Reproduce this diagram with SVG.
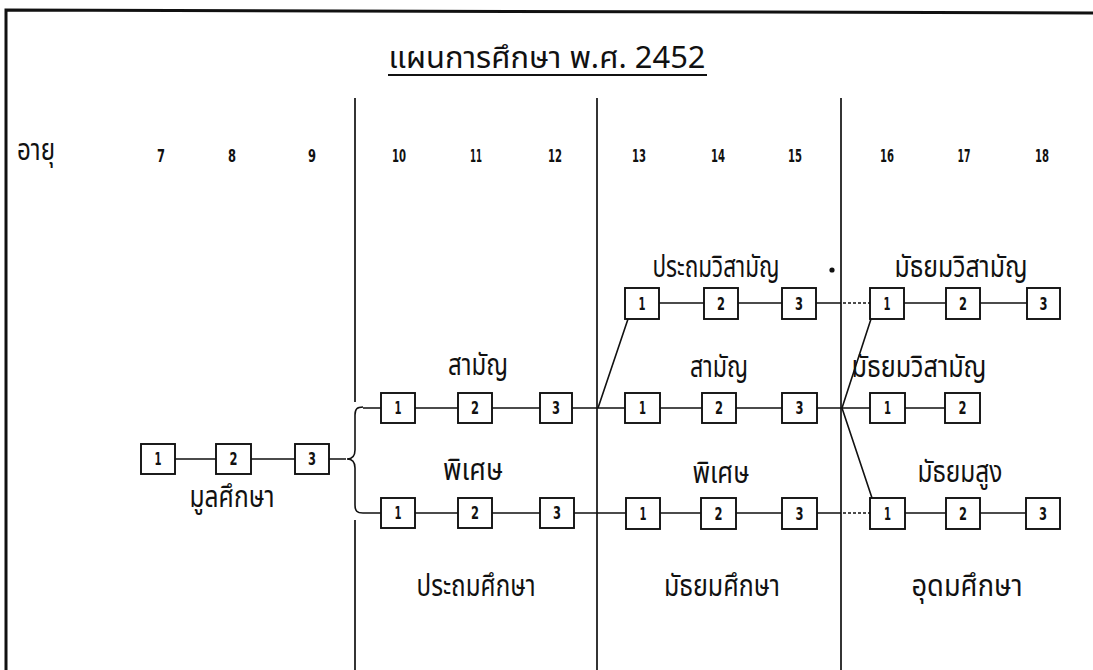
<svg xmlns="http://www.w3.org/2000/svg" width="1093" height="670" viewBox="0 0 1093 670">
<style>
.frame{stroke:#111;stroke-width:3;fill:none}
.div{stroke:#111;stroke-width:1.7;fill:none}
.ln{stroke:#111;stroke-width:1.6;fill:none}
.dot{stroke:#111;stroke-width:1.6;fill:none;stroke-dasharray:3 2}
.box{fill:#fff;stroke:#111;stroke-width:1.9}
.num{font-family:"Liberation Sans Narrow","DejaVu Sans Condensed","Liberation Sans",sans-serif;font-weight:bold;font-size:17px;fill:#111;text-anchor:middle}
.age{font-family:"Liberation Sans Narrow","DejaVu Sans Condensed","Liberation Sans",sans-serif;font-weight:bold;font-size:18px;fill:#111;text-anchor:middle}
.th{font-family:"Noto Sans Thai","Loma","Garuda","Tlwg Typo","Noto Sans","DejaVu Sans",sans-serif;font-size:30px;fill:#111;text-anchor:middle}
</style>
<rect width="1093" height="670" fill="#fff"/>
<g id="frame">
<path class="frame" d="M6,670 L6,10 L1093,13"/>
<line class="div" x1="355" y1="98" x2="355" y2="402"/>
<line class="div" x1="355" y1="520" x2="355" y2="670"/>
<line class="div" x1="597" y1="98" x2="597" y2="670"/>
<line class="div" x1="841" y1="98" x2="841" y2="670"/>
</g>
<g id="title">
<text class="th" x="547" y="68" font-size="36" textLength="317" lengthAdjust="spacingAndGlyphs">แผนการศึกษา พ.ศ. 2452</text>
<line x1="388" y1="75" x2="707" y2="75" stroke="#111" stroke-width="2"/>
</g>
<g id="ages">
<text class="th" x="36" y="160" font-size="27" textLength="38" lengthAdjust="spacingAndGlyphs">อายุ</text>
<text class="age" x="161" y="162" textLength="8" lengthAdjust="spacingAndGlyphs">7</text>
<text class="age" x="232" y="162" textLength="8" lengthAdjust="spacingAndGlyphs">8</text>
<text class="age" x="312" y="162" textLength="8" lengthAdjust="spacingAndGlyphs">9</text>
<text class="age" x="399" y="162" textLength="14" lengthAdjust="spacingAndGlyphs">10</text>
<text class="age" x="476" y="162" textLength="12" lengthAdjust="spacingAndGlyphs">11</text>
<text class="age" x="555" y="162" textLength="14" lengthAdjust="spacingAndGlyphs">12</text>
<text class="age" x="639" y="162" textLength="14" lengthAdjust="spacingAndGlyphs">13</text>
<text class="age" x="718" y="162" textLength="14" lengthAdjust="spacingAndGlyphs">14</text>
<text class="age" x="795" y="162" textLength="14" lengthAdjust="spacingAndGlyphs">15</text>
<text class="age" x="887" y="162" textLength="14" lengthAdjust="spacingAndGlyphs">16</text>
<text class="age" x="964" y="162" textLength="13" lengthAdjust="spacingAndGlyphs">17</text>
<text class="age" x="1042" y="162" textLength="14" lengthAdjust="spacingAndGlyphs">18</text>
</g>
<g id="connectors">
<path class="ln" d="M175,459 H216 M251,459 H295 M329,459 H346"/>
<path class="ln" d="M363,407 C357,407 355,409 355,415 L355,450 C355,456 352,459 347,459 C352,459 355,462 355,468 L355,505 C355,511 357,513 363,513"/>
<path class="ln" d="M659,303 H704 M738,303 H782 M816,303 H841"/>
<path class="dot" d="M843,303 H870"/>
<path class="ln" d="M904,303 H946 M980,303 H1027"/>
<path class="ln" d="M363,408 H381 M415,408 H458 M492,408 H540 M572,408 H625 M660,408 H702 M736,408 H782 M817,408 H870 M905,408 H945"/>
<path class="ln" d="M363,513 H381 M415,513 H458 M492,513 H540 M574,513 H626 M660,513 H701 M736,513 H782 M817,513 H841"/>
<path class="dot" d="M843,513 H870"/>
<path class="ln" d="M905,513 H946 M980,513 H1026"/>
<path class="ln" d="M598,408 L628,319 M842,408 L871,319 M842,408 L872,498"/>
<circle cx="832" cy="270" r="2.6" fill="#111"/>
</g>
<g id="mula">
<rect class="box" x="141" y="444" width="34" height="30"/><text class="num" x="158" y="465" textLength="7" lengthAdjust="spacingAndGlyphs">1</text>
<rect class="box" x="216" y="444" width="35" height="30"/><text class="num" x="233.5" y="465" textLength="8" lengthAdjust="spacingAndGlyphs">2</text>
<rect class="box" x="295" y="444" width="34" height="30"/><text class="num" x="312" y="465" textLength="8" lengthAdjust="spacingAndGlyphs">3</text>
<text class="th" x="232" y="507" textLength="85" lengthAdjust="spacingAndGlyphs">มูลศึกษา</text>
</g>
<g id="prathom-saman">
<text class="th" x="478" y="375" textLength="60" lengthAdjust="spacingAndGlyphs">สามัญ</text>
<rect class="box" x="381" y="393" width="34" height="30"/><text class="num" x="398" y="414" textLength="7" lengthAdjust="spacingAndGlyphs">1</text>
<rect class="box" x="458" y="393" width="34" height="30"/><text class="num" x="475" y="414" textLength="8" lengthAdjust="spacingAndGlyphs">2</text>
<rect class="box" x="540" y="393" width="32" height="30"/><text class="num" x="556" y="414" textLength="8" lengthAdjust="spacingAndGlyphs">3</text>
</g>
<g id="prathom-phiset">
<text class="th" x="473" y="480" textLength="60" lengthAdjust="spacingAndGlyphs">พิเศษ</text>
<rect class="box" x="381" y="498" width="34" height="30"/><text class="num" x="398" y="519" textLength="7" lengthAdjust="spacingAndGlyphs">1</text>
<rect class="box" x="458" y="498" width="34" height="30"/><text class="num" x="475" y="519" textLength="8" lengthAdjust="spacingAndGlyphs">2</text>
<rect class="box" x="540" y="498" width="34" height="30"/><text class="num" x="557" y="519" textLength="8" lengthAdjust="spacingAndGlyphs">3</text>
</g>
<g id="prathom-wisaman">
<text class="th" x="716" y="277" textLength="127" lengthAdjust="spacingAndGlyphs">ประถมวิสามัญ</text>
<rect class="box" x="625" y="288" width="34" height="31"/><text class="num" x="642" y="310" textLength="7" lengthAdjust="spacingAndGlyphs">1</text>
<rect class="box" x="704" y="288" width="34" height="31"/><text class="num" x="721" y="310" textLength="8" lengthAdjust="spacingAndGlyphs">2</text>
<rect class="box" x="782" y="288" width="34" height="31"/><text class="num" x="799" y="310" textLength="8" lengthAdjust="spacingAndGlyphs">3</text>
</g>
<g id="mathayom-saman">
<text class="th" x="719" y="377" textLength="58" lengthAdjust="spacingAndGlyphs">สามัญ</text>
<rect class="box" x="625" y="393" width="35" height="30"/><text class="num" x="642.5" y="414" textLength="7" lengthAdjust="spacingAndGlyphs">1</text>
<rect class="box" x="702" y="393" width="34" height="30"/><text class="num" x="719" y="414" textLength="8" lengthAdjust="spacingAndGlyphs">2</text>
<rect class="box" x="782" y="393" width="35" height="30"/><text class="num" x="799.5" y="414" textLength="8" lengthAdjust="spacingAndGlyphs">3</text>
</g>
<g id="mathayom-phiset">
<text class="th" x="721" y="483" textLength="57" lengthAdjust="spacingAndGlyphs">พิเศษ</text>
<rect class="box" x="626" y="498" width="34" height="31"/><text class="num" x="643" y="520" textLength="7" lengthAdjust="spacingAndGlyphs">1</text>
<rect class="box" x="701" y="498" width="35" height="31"/><text class="num" x="718.5" y="520" textLength="8" lengthAdjust="spacingAndGlyphs">2</text>
<rect class="box" x="782" y="498" width="35" height="31"/><text class="num" x="799.5" y="520" textLength="8" lengthAdjust="spacingAndGlyphs">3</text>
</g>
<g id="mathayom-wisaman-top">
<text class="th" x="961" y="277" textLength="133" lengthAdjust="spacingAndGlyphs">มัธยมวิสามัญ</text>
<rect class="box" x="870" y="288" width="34" height="31"/><text class="num" x="887" y="310" textLength="7" lengthAdjust="spacingAndGlyphs">1</text>
<rect class="box" x="946" y="288" width="34" height="31"/><text class="num" x="963" y="310" textLength="8" lengthAdjust="spacingAndGlyphs">2</text>
<rect class="box" x="1027" y="288" width="33" height="31"/><text class="num" x="1043.5" y="310" textLength="8" lengthAdjust="spacingAndGlyphs">3</text>
</g>
<g id="mathayom-wisaman-mid">
<text class="th" x="919" y="377" textLength="135" lengthAdjust="spacingAndGlyphs">มัธยมวิสามัญ</text>
<rect class="box" x="870" y="393" width="35" height="30"/><text class="num" x="887.5" y="414" textLength="7" lengthAdjust="spacingAndGlyphs">1</text>
<rect class="box" x="945" y="393" width="35" height="30"/><text class="num" x="962.5" y="414" textLength="8" lengthAdjust="spacingAndGlyphs">2</text>
</g>
<g id="mathayom-sung">
<text class="th" x="960" y="482" textLength="85" lengthAdjust="spacingAndGlyphs">มัธยมสูง</text>
<rect class="box" x="870" y="498" width="35" height="31"/><text class="num" x="887.5" y="520" textLength="7" lengthAdjust="spacingAndGlyphs">1</text>
<rect class="box" x="946" y="498" width="34" height="31"/><text class="num" x="963" y="520" textLength="8" lengthAdjust="spacingAndGlyphs">2</text>
<rect class="box" x="1026" y="498" width="34" height="31"/><text class="num" x="1043" y="520" textLength="8" lengthAdjust="spacingAndGlyphs">3</text>
</g>
<g id="levels">
<text class="th" x="476" y="596" textLength="119" lengthAdjust="spacingAndGlyphs">ประถมศึกษา</text>
<text class="th" x="722" y="596" textLength="116" lengthAdjust="spacingAndGlyphs">มัธยมศึกษา</text>
<text class="th" x="967" y="596" textLength="111" lengthAdjust="spacingAndGlyphs">อุดมศึกษา</text>
</g>
</svg>
